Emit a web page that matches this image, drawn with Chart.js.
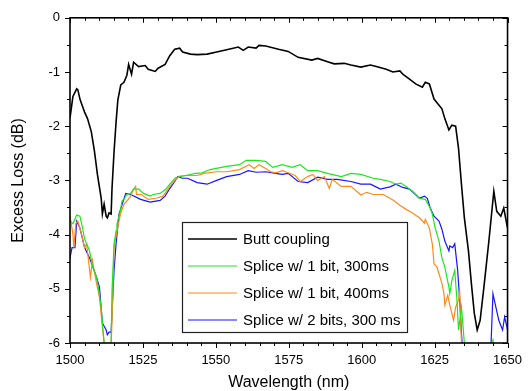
<!DOCTYPE html>
<html>
<head>
<meta charset="utf-8">
<script src="https://cdn.jsdelivr.net/npm/chart.js@4"></script>
<style>
  body { margin: 0; background: #fff; }
  canvas { display: block; }
</style>
</head>
<body>
<canvas id="lossChart" width="532" height="391"></canvas>
<script>
// Butt coupling
const buttWl = [1500.0, 1501.0, 1502.3, 1502.7, 1503.4, 1504.0, 1505.0, 1506.0, 1507.3, 1508.4, 1509.4, 1510.7, 1511.1, 1511.7, 1512.4, 1512.8, 1513.4, 1514.1, 1514.4, 1515.1, 1515.8, 1516.4, 1517.4, 1518.5, 1519.5, 1520.1, 1521.1, 1521.8, 1523.5, 1525.8, 1526.8, 1529.2, 1530.2, 1532.6, 1534.2, 1535.9, 1537.6, 1538.6, 1541.3, 1543.6, 1547.0, 1550.3, 1553.7, 1557.7, 1559.4, 1561.1, 1563.8, 1564.8, 1567.1, 1571.5, 1574.8, 1578.2, 1582.9, 1584.9, 1588.3, 1590.6, 1594.0, 1596.3, 1599.7, 1603.0, 1605.0, 1608.4, 1610.7, 1613.1, 1614.1, 1616.4, 1618.5, 1620.8, 1621.8, 1623.2, 1624.8, 1627.5, 1628.5, 1629.9, 1630.9, 1632.2, 1633.2, 1634.2, 1635.2, 1636.6, 1637.6, 1638.6, 1639.6, 1640.6, 1641.9, 1643.6, 1645.3, 1646.3, 1647.7, 1648.7, 1650.0];
const buttLoss = [-1.85, -1.45, -1.31, -1.33, -1.50, -1.59, -1.74, -1.86, -2.10, -2.47, -2.89, -3.33, -3.62, -3.44, -3.66, -3.69, -3.60, -3.62, -3.15, -2.47, -1.92, -1.52, -1.24, -1.19, -1.06, -0.86, -1.04, -0.82, -0.90, -0.88, -0.95, -0.99, -0.93, -0.86, -0.70, -0.58, -0.56, -0.63, -0.67, -0.68, -0.67, -0.63, -0.59, -0.54, -0.60, -0.54, -0.56, -0.51, -0.52, -0.58, -0.62, -0.73, -0.78, -0.75, -0.81, -0.85, -0.84, -0.87, -0.91, -0.87, -0.90, -0.95, -1.00, -0.98, -1.04, -1.13, -1.22, -1.28, -1.19, -1.22, -1.50, -1.68, -1.86, -2.07, -1.98, -2.00, -2.41, -3.07, -3.69, -4.30, -4.90, -5.45, -5.76, -5.58, -4.97, -4.12, -3.20, -3.57, -3.66, -3.51, -3.88];

// Splice w/ 1 bit, 300ms
const greenWl = [1500.0, 1501.0, 1502.3, 1503.4, 1504.0, 1505.0, 1505.7, 1506.7, 1507.7, 1509.1, 1509.7, 1510.7, 1511.1, 1511.7, 1512.4, 1513.8, 1514.1, 1514.4, 1515.1, 1515.8, 1516.1, 1516.8, 1517.4, 1517.8, 1518.5, 1519.5, 1520.8, 1521.8, 1523.5, 1525.2, 1527.5, 1528.5, 1530.9, 1532.9, 1534.2, 1536.2, 1539.6, 1543.0, 1545.3, 1548.0, 1553.7, 1558.1, 1560.4, 1563.8, 1567.1, 1569.5, 1572.8, 1576.2, 1578.9, 1581.5, 1584.9, 1588.3, 1593.0, 1596.3, 1599.7, 1604.0, 1606.4, 1609.7, 1611.7, 1613.4, 1615.1, 1617.4, 1619.8, 1621.8, 1623.5, 1624.2, 1625.2, 1626.5, 1627.5, 1628.5, 1629.9, 1630.2, 1630.9, 1631.9, 1632.6, 1633.2, 1634.2, 1635.2, 1636.0, 1644.3, 1645.0, 1645.6, 1650.0];
const greenLoss = [-3.75, -3.80, -3.64, -3.66, -3.80, -4.08, -4.17, -4.30, -4.57, -4.79, -4.97, -5.34, -5.63, -6.00, -6.40, -6.40, -5.95, -5.03, -4.17, -3.93, -3.80, -3.66, -3.53, -3.38, -3.35, -3.26, -3.24, -3.16, -3.16, -3.24, -3.29, -3.26, -3.24, -3.16, -3.07, -2.95, -2.91, -2.87, -2.86, -2.80, -2.74, -2.71, -2.63, -2.63, -2.65, -2.76, -2.71, -2.76, -2.71, -2.82, -2.82, -2.87, -2.93, -2.87, -2.89, -2.96, -2.98, -3.02, -3.07, -3.05, -3.11, -3.20, -3.33, -3.35, -3.51, -3.62, -3.88, -4.12, -4.43, -4.60, -4.97, -5.09, -4.85, -4.66, -5.16, -5.76, -5.34, -6.00, -6.50, -6.50, -5.92, -6.50, -6.50];

// Splice w/ 1 bit, 400ms
const orangeWl = [1500.0, 1501.0, 1501.3, 1502.0, 1502.7, 1504.0, 1505.0, 1505.7, 1507.0, 1507.7, 1509.1, 1510.1, 1511.1, 1511.7, 1512.4, 1513.8, 1514.4, 1515.1, 1516.1, 1517.4, 1518.5, 1519.5, 1520.8, 1521.8, 1522.5, 1522.8, 1524.5, 1526.8, 1529.5, 1531.9, 1534.2, 1535.9, 1537.6, 1540.3, 1543.6, 1546.0, 1550.3, 1553.7, 1558.1, 1561.4, 1563.1, 1564.8, 1567.1, 1568.8, 1570.5, 1572.8, 1574.8, 1577.2, 1578.9, 1581.5, 1583.2, 1584.9, 1587.2, 1588.9, 1589.9, 1593.0, 1596.3, 1599.7, 1601.7, 1604.0, 1607.4, 1610.7, 1613.1, 1615.1, 1617.4, 1619.8, 1621.5, 1621.8, 1623.2, 1624.2, 1624.8, 1625.8, 1627.5, 1628.2, 1628.5, 1629.5, 1630.2, 1631.5, 1632.2, 1633.2, 1633.6, 1634.2, 1635.0, 1650.0];
const orangeLoss = [-3.66, -3.99, -4.24, -3.80, -3.75, -4.00, -4.24, -4.17, -4.79, -4.48, -4.90, -5.16, -5.70, -6.00, -6.50, -6.50, -5.60, -4.24, -3.93, -3.60, -3.44, -3.38, -3.29, -3.16, -3.11, -3.26, -3.26, -3.35, -3.33, -3.29, -3.11, -3.00, -2.92, -2.91, -2.91, -2.87, -2.84, -2.84, -2.80, -2.71, -2.78, -2.71, -2.78, -2.84, -2.86, -2.82, -2.86, -2.91, -3.02, -2.93, -2.89, -3.00, -2.93, -3.15, -2.98, -3.11, -3.11, -3.27, -3.22, -3.26, -3.26, -3.36, -3.46, -3.53, -3.60, -3.69, -3.79, -3.72, -3.88, -4.17, -4.54, -4.60, -4.90, -5.09, -5.30, -5.12, -5.30, -5.58, -5.34, -5.21, -5.03, -6.00, -6.50, -6.50];

// Splice w/ 2 bits, 300 ms
const blueWl = [1500.0, 1500.7, 1501.7, 1502.3, 1503.4, 1505.0, 1506.7, 1509.1, 1510.1, 1511.1, 1512.4, 1512.8, 1513.4, 1514.1, 1515.1, 1515.8, 1516.8, 1519.1, 1520.8, 1524.2, 1527.5, 1530.9, 1532.6, 1534.2, 1535.9, 1536.9, 1538.6, 1540.3, 1543.6, 1547.0, 1550.3, 1553.7, 1558.1, 1561.1, 1563.8, 1567.1, 1570.5, 1572.8, 1574.8, 1578.2, 1581.5, 1584.9, 1588.3, 1591.6, 1596.3, 1599.7, 1603.0, 1606.4, 1609.7, 1611.7, 1614.1, 1616.4, 1619.8, 1621.5, 1622.5, 1623.5, 1624.8, 1626.5, 1627.5, 1628.5, 1629.9, 1630.2, 1631.2, 1631.9, 1632.9, 1633.6, 1634.2, 1635.0, 1644.0, 1645.0, 1646.0, 1647.0, 1648.3, 1649.0, 1650.0];
const blueLoss = [-4.43, -4.24, -4.24, -3.75, -3.88, -4.24, -4.43, -4.79, -4.97, -5.63, -5.76, -5.85, -5.80, -5.80, -4.66, -4.17, -3.62, -3.24, -3.26, -3.35, -3.40, -3.37, -3.29, -3.15, -3.02, -2.93, -2.96, -2.96, -3.04, -3.07, -3.00, -2.93, -2.89, -2.82, -2.85, -2.84, -2.87, -2.89, -2.87, -3.02, -3.04, -2.94, -2.98, -2.98, -3.02, -3.07, -3.07, -3.16, -3.12, -3.07, -3.13, -3.16, -3.33, -3.29, -3.33, -3.51, -3.66, -3.75, -3.90, -4.12, -4.30, -4.21, -4.24, -4.17, -4.66, -5.20, -5.82, -6.50, -6.50, -5.09, -5.34, -5.58, -5.76, -5.52, -5.76];

const seriesLabels = ['Butt coupling', 'Splice w/ 1 bit, 300ms', 'Splice w/ 1 bit, 400ms', 'Splice w/ 2 bits, 300 ms'];
const xTicks = [1500, 1525, 1550, 1575, 1600, 1625, 1650];
const yTicks = [0, -1, -2, -3, -4, -5, -6];

const FONT = '"Liberation Sans", Arial, sans-serif';
const toPoints = (xs, ys) => xs.map((x, i) => ({ x: x, y: ys[i] }));

// frame, mirrored ticks (with minors) and the boxed legend
const framePlugin = {
  id: 'frame',
  afterDatasetsDraw(chart) {
    const { ctx, chartArea: { left, right, top, bottom } } = chart;
    const xs = chart.scales.x, ys = chart.scales.y;
    ctx.save();
    ctx.strokeStyle = '#000';
    ctx.lineWidth = 1;
    ctx.beginPath();
    for (let v = 1500; v <= 1650; v += 5) {
      const px = Math.round(xs.getPixelForValue(v)) + 0.5;
      const len = v % 25 === 0 ? 5 : 3;
      ctx.moveTo(px, bottom); ctx.lineTo(px, bottom + len);
      ctx.moveTo(px, top); ctx.lineTo(px, top + len);
    }
    for (let v = 0; v >= -6; v -= 0.5) {
      const py = Math.round(ys.getPixelForValue(v)) + 0.5;
      const len = Number.isInteger(v) ? 5 : 3;
      ctx.moveTo(left, py); ctx.lineTo(left - len, py);
      ctx.moveTo(right, py); ctx.lineTo(right - len, py);
    }
    ctx.stroke();
    ctx.lineWidth = 1.6;
    ctx.strokeRect(left, top, right - left, bottom - top);

    // legend box
    const bx = 182, by = 222, bw = 225, bh = 110;
    ctx.fillStyle = '#fff';
    ctx.fillRect(bx, by, bw, bh);
    ctx.lineWidth = 1.2;
    ctx.strokeStyle = '#222';
    ctx.strokeRect(bx + 0.5, by + 0.5, bw, bh);
    ctx.font = '15px ' + FONT;
    ctx.textBaseline = 'middle';
    chart.data.datasets.forEach((ds, i) => {
      const ry = 239 + i * 27;
      ctx.strokeStyle = ds.borderColor;
      ctx.lineWidth = ds.borderWidth;
      ctx.beginPath();
      ctx.moveTo(188, ry); ctx.lineTo(237, ry);
      ctx.stroke();
      ctx.fillStyle = '#000';
      ctx.fillText(ds.label, 243, ry + 1);
    });
    ctx.restore();
  }
};

new Chart(document.getElementById('lossChart'), {
  type: 'line',
  data: {
    datasets: [
      { label: seriesLabels[0], data: toPoints(buttWl, buttLoss), borderColor: '#000000', borderWidth: 1.6 },
      { label: seriesLabels[1], data: toPoints(greenWl, greenLoss), borderColor: '#1ee61e', borderWidth: 1.2 },
      { label: seriesLabels[2], data: toPoints(orangeWl, orangeLoss), borderColor: '#ff8a1a', borderWidth: 1.2 },
      { label: seriesLabels[3], data: toPoints(blueWl, blueLoss), borderColor: '#1515ff', borderWidth: 1.2 }
    ]
  },
  options: {
    responsive: false,
    animation: false,
    devicePixelRatio: 1,
    layout: { padding: { top: 15, right: 15, left: 0, bottom: 0 } },
    elements: { point: { radius: 0 }, line: { tension: 0, fill: false } },
    plugins: { legend: { display: false }, tooltip: { enabled: false } },
    scales: {
      x: {
        type: 'linear',
        min: 1500, max: 1650,
        afterBuildTicks: s => { s.ticks = xTicks.map(v => ({ value: v })); },
        afterFit: s => { s.height = 48; },
        grid: { display: false, drawTicks: false },
        border: { display: false },
        ticks: { color: '#000', font: { family: FONT, size: 13 }, padding: 10, maxRotation: 0, callback: v => String(v) },
        title: { display: true, text: 'Wavelength (nm)', color: '#000', font: { family: FONT, size: 16, lineHeight: 1 }, padding: { top: 0, bottom: 0 } }
      },
      y: {
        min: -6, max: 0,
        afterBuildTicks: s => { s.ticks = yTicks.map(v => ({ value: v })); },
        afterFit: s => { s.width = 70; },
        grid: { display: false, drawTicks: false },
        border: { display: false },
        ticks: { color: '#000', font: { family: FONT, size: 13 }, padding: 10, callback: v => String(v) },
        title: { display: true, text: 'Excess Loss (dB)', color: '#000', font: { family: FONT, size: 16, lineHeight: 1 }, padding: { top: 11, bottom: 0 } }
      }
    }
  },
  plugins: [framePlugin]
});
</script>
</body>
</html>
